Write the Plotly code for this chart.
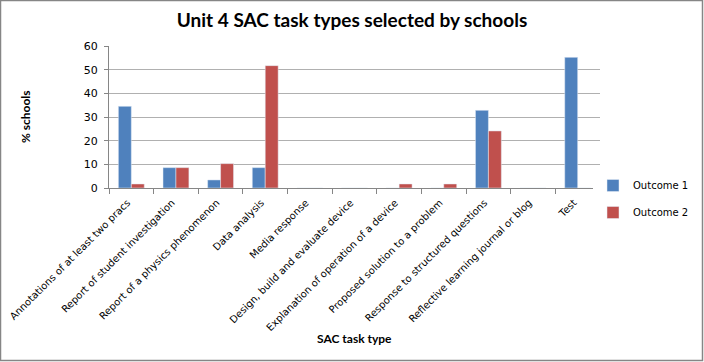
import plotly.graph_objects as go

categories = [
    "Annotations of at least two pracs",
    "Report of student investigation",
    "Report of a physics phenomenon",
    "Data analysis",
    "Media response",
    "Design, build and evaluate device",
    "Explanation of operation of a device",
    "Proposed solution to a problem",
    "Response to structured questions",
    "Reflective learning journal or blog",
    "Test",
]
outcome1 = [34.5, 8.6, 3.4, 8.6, 0, 0, 0, 0, 32.8, 0, 55.2]
outcome2 = [1.7, 8.6, 10.3, 51.7, 0, 0, 1.7, 1.7, 24.1, 0, 0]

font = "DejaVu Sans"
tfont = "Lato"

fig = go.Figure()
fig.add_trace(go.Bar(x=categories, y=outcome1, name="Outcome 1", marker_color="#4F81BD",
                     legendgroup="o1"))
fig.add_trace(go.Bar(x=categories, y=outcome2, name="Outcome 2", marker_color="#C0504D",
                     legendgroup="o2"))

pw, ph, ml, mb = 491, 142, 109, 174
fig.update_layout(
    width=704, height=362,
    margin=dict(l=ml, r=104, t=46, b=mb, autoexpand=False),
    paper_bgcolor="white", plot_bgcolor="white",
    barmode="group", bargap=0.42, bargroupgap=0,
    title=dict(text="<b>Unit 4 SAC task types selected by schools</b>", x=352 / 704, xanchor="center",
               xref="container", y=1 - 20 / 362, yanchor="middle", yref="container",
               font=dict(family=tfont, size=19, color="black")),
    font=dict(family=font, size=10, color="black"),
    showlegend=True,
    legend=dict(xref="container", yref="container", x=593 / 704, xanchor="left",
                y=1 - 199 / 362, yanchor="middle", font=dict(size=10),
                tracegroupgap=8, itemwidth=30, traceorder="grouped"),
    annotations=[
        dict(text="<b>SAC task type</b>", xref="paper", yref="paper",
             x=(354 - ml) / pw, y=(362 - 338 - mb) / ph, xanchor="center", yanchor="middle",
             showarrow=False, font=dict(family=tfont, size=12, color="black")),
        dict(text="<b>% schools</b>", xref="paper", yref="paper",
             x=(25 - ml) / pw, y=(362 - 117 - mb) / ph, xanchor="center", yanchor="middle",
             showarrow=False, textangle=-90, font=dict(family=tfont, size=12, color="black")),
    ],
)
fig.update_xaxes(
    type="category", tickangle=-45, tickfont=dict(size=10), automargin=False,
    ticks="outside", tickson="boundaries", ticklen=5, tickcolor="#868686",
    ticklabelstandoff=4, ticklabelshift=-4,
    showline=True, linecolor="#868686", linewidth=1,
)
fig.update_yaxes(
    range=[0, 60], dtick=10, tickfont=dict(size=11), automargin=False,
    showgrid=True, gridcolor="#B0B0B0", gridwidth=1,
    showline=True, linecolor="#868686", linewidth=1,
    ticks="outside", ticklen=4, tickcolor="#868686", ticklabelstandoff=4,
)
fig.add_shape(type="rect", xref="paper", yref="paper",
              x0=-108.5 / pw, x1=1 + 102.5 / pw, y0=-172.5 / ph, y1=1 + 45.5 / ph,
              line=dict(color="#868686", width=1.5), layer="above")
fig.write_html("out.html", config={"displayModeBar": False},
               post_script="document.body.style.margin='0';")
